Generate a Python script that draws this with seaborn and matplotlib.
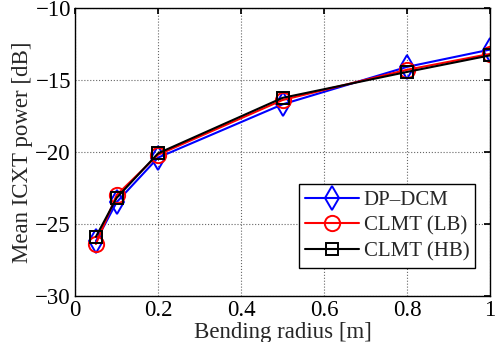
import matplotlib
matplotlib.use("Agg")
import matplotlib.pyplot as plt
import pandas as pd
import seaborn as sns

# bending radius [m] and mean ICXT power [dB] for each method
radius = [0.05, 0.1, 0.2, 0.5, 0.8, 1.0]
dp_dcm = [-26.2, -23.5, -20.4, -16.7, -14.1, -12.9]
clmt_lb = [-26.4, -23.0, -20.2, -16.4, -14.3, -13.2]
clmt_hb = [-25.9, -23.2, -20.1, -16.25, -14.45, -13.3]
labels = ["DP\u2013DCM", "CLMT (LB)", "CLMT (HB)"]

df = pd.DataFrame({
    "radius": radius * 3,
    "icxt": dp_dcm + clmt_lb + clmt_hb,
    "method": [labels[0]] * 6 + [labels[1]] * 6 + [labels[2]] * 6,
})

sns.set_theme(style="white")
plt.rcParams["font.family"] = ["Liberation Serif", "DejaVu Serif"]

fig = plt.figure(figsize=(5.01, 3.42), dpi=100)
ax = fig.add_axes([0.150, 0.135, 0.828, 0.842])

palette = {labels[0]: "#0000ff", labels[1]: "#ff0000", labels[2]: "#000000"}
markers = {labels[0]: "d", labels[1]: "o", labels[2]: "s"}
sizes = {labels[0]: 12, labels[1]: 11, labels[2]: 8.5}

for lab in labels:
    sub = df[df["method"] == lab]
    sns.lineplot(data=sub, x="radius", y="icxt", color=palette[lab], marker=markers[lab],
                 markersize=sizes[lab], markerfacecolor="none", markeredgecolor=palette[lab],
                 markeredgewidth=1.4, linewidth=1.5, label=lab, ax=ax)

ax.set_xlim(0, 1)
ax.set_ylim(-30, -10)
ax.set_xticks([0, 0.2, 0.4, 0.6, 0.8, 1])
ax.set_xticklabels(["0", "0.2", "0.4", "0.6", "0.8", "1"])
ax.set_yticks([-30, -25, -20, -15, -10])
ax.set_yticklabels(["\u221230", "\u221225", "\u221220", "\u221215", "\u221210"])
ax.grid(True, linestyle=":", color="#666666", linewidth=0.8)
ax.tick_params(direction="in", length=4, pad=3, top=True, right=True, labelsize=16.5, colors="black")
for s in ax.spines.values():
    s.set_color("black")
    s.set_linewidth(1.0)
ax.set_xlabel("Bending radius [m]", fontsize=16.5, labelpad=1)
ax.set_ylabel("Mean ICXT power [dB]", fontsize=16.5, labelpad=2)

leg = ax.legend(loc="lower right", bbox_to_anchor=(0.97, 0.09), fontsize=15, frameon=True,
                fancybox=False, edgecolor="black", framealpha=1, handlelength=2.6,
                borderpad=0.3, labelspacing=0.3, handletextpad=0.2, borderaxespad=0.1)
leg.get_frame().set_linewidth(1.0)

fig.savefig("out.png", dpi=100)
